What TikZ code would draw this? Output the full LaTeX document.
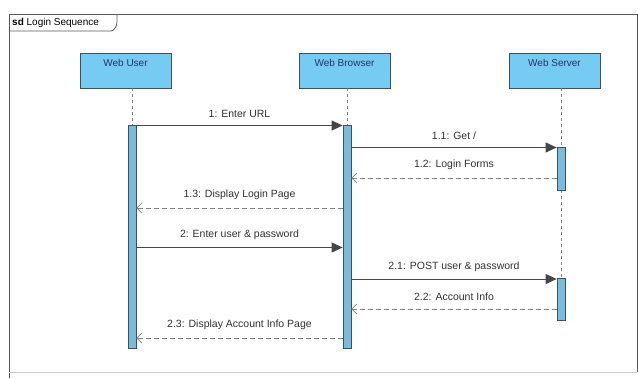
\documentclass[tikz,border=0pt]{standalone}
\usepackage{fontspec}
\setmainfont{Liberation Sans}
\usetikzlibrary{arrows.meta}
\definecolor{headfill}{RGB}{118,203,242}
\definecolor{actfill}{RGB}{122,188,220}
\definecolor{edge}{RGB}{60,80,100}
\definecolor{msgcol}{RGB}{70,70,70}
\definecolor{lblcol}{RGB}{50,50,50}
\tikzset{
  head/.style={draw=edge, fill=headfill, line width=0.9pt, minimum width=91pt, minimum height=35pt, inner sep=0pt},
  headlbl/.style={font=\fontsize{10}{11}\selectfont, text=edge!80!blue!80!black},
  actbar/.style={draw=edge, fill=actfill, line width=0.7pt, minimum width=8pt, inner sep=0pt, anchor=north},
  lifeline/.style={draw=gray, line width=0.7pt, dash pattern=on 3pt off 3pt},
  call/.style={draw=msgcol, line width=1pt, -{Triangle[length=11pt,width=10pt]}},
  ret/.style={draw=gray, line width=1pt, dash pattern=on 5pt off 3pt, -{Straight Barb[length=5pt,width=10pt,line width=0.8pt]}},
  lbl/.style={font=\fontsize{10.5}{11}\selectfont, text=lblcol, inner sep=0pt},
}
\begin{document}
\begin{tikzpicture}[x=1pt,y=-1pt]
\useasboundingbox (0,0) rectangle (638,378);
\fill[white] (0,0) rectangle (638,378);
% frame
\draw[gray!70!black, line width=0.9pt] (9,378) -- (9,14) -- (637,14) -- (637,372);
\draw[gray!40, line width=0.6pt] (9,372) -- (637,372);
\draw[gray!70!black, line width=0.8pt] (9,31) -- (111,31) .. controls (114,31) and (117,26) .. (117,22) -- (117,14);
\node[anchor=west, font=\fontsize{10}{11}\selectfont, inner sep=0pt] (title) at (12,22.5) {\textbf{sd} Login Sequence};

% heads
\node[head] (user) at (125.5,70.5) {};
\node[head] (browser) at (344.5,70.5) {};
\node[head] (server) at (554.5,70.5) {};
\node[headlbl, anchor=north] at (user.north) [yshift=-3pt] {Web User};
\node[headlbl, anchor=north] at (browser.north) [yshift=-3pt] {Web Browser};
\node[headlbl, anchor=north] at (server.north) [yshift=-3pt] {Web Server};

% lifelines
\coordinate (uend) at (132,348);
\coordinate (bend) at (347,348);
\coordinate (send) at (561,320);
\draw[lifeline] (user.south -| uend) -- (uend);
\draw[lifeline] (browser.south -| bend) -- (bend);
\draw[lifeline] (server.south -| send) -- (send);

% activations
\node[actbar, minimum height=223pt] (uact) at (132,125) {};
\node[actbar, minimum height=223pt] (bact) at (347,125) {};
\node[actbar, minimum height=43pt] (sact1) at (561,147) {};
\node[actbar, minimum height=42pt] (sact2) at (561,278) {};

% messages
\draw[call] (uact.east |- 0,125.5) -- node[lbl, above=7pt] {1: Enter URL} (bact.west |- 0,125.5);
\draw[call] (bact.east |- 0,147.5) -- node[lbl, above=7pt] {1.1: Get /} (sact1.west |- 0,147.5);
\draw[ret] (sact1.west |- 0,178) -- node[lbl, above=8pt] {1.2: Login Forms} (bact.east |- 0,178);
\draw[ret] (bact.west |- 0,208) -- node[lbl, above=8pt] {1.3: Display Login Page} (uact.east |- 0,208);
\draw[call] (uact.east |- 0,247.5) -- node[lbl, above=7pt] {2: Enter user \& password} (bact.west |- 0,247.5);
\draw[call] (bact.east |- 0,279) -- node[lbl, above=7pt] {2.1: POST user \& password} (sact2.west |- 0,279);
\draw[ret] (sact2.west |- 0,309) -- node[lbl, above=8pt] {2.2: Account Info} (bact.east |- 0,309);
\draw[ret] (bact.west |- 0,338) -- node[lbl, above=8pt] {2.3: Display Account Info Page} (uact.east |- 0,338);
\end{tikzpicture}
\end{document}
